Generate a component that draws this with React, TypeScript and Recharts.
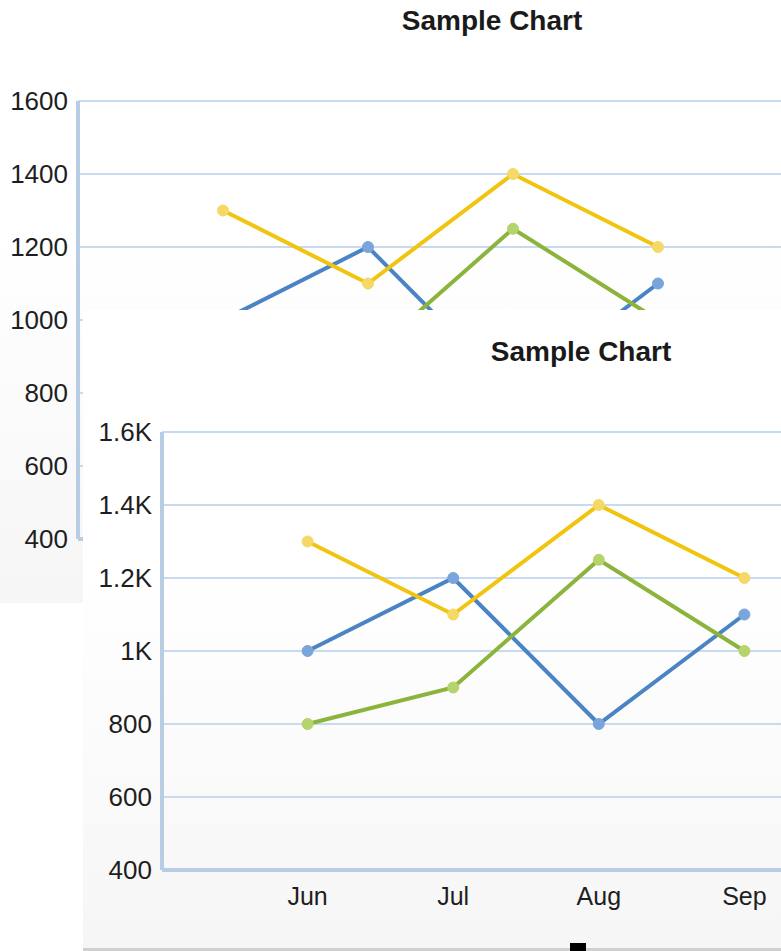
import React from 'react';
import { LineChart, Line, XAxis, YAxis, CartesianGrid } from 'recharts';

const months = ['Jun', 'Jul', 'Aug', 'Sep'];
const positions = [1, 2, 3, 4];
const blueValues = [1000, 1200, 800, 1100];
const greenValues = [800, 900, 1250, 1000];
const yellowValues = [1300, 1100, 1400, 1200];
const yTicks = [400, 600, 800, 1000, 1200, 1400, 1600];
const chartTitle = 'Sample Chart';

const data = months.map((m, i) => ({
  pos: positions[i],
  month: m,
  blue: blueValues[i],
  green: greenValues[i],
  yellow: yellowValues[i],
}));

const FONT = '"Liberation Sans", Arial, sans-serif';
const AXIS = '#b8cce4';
const GRID = '#c8daf0';

const series = [
  { key: 'blue', stroke: '#4a84c5', dot: '#7aa5da' },
  { key: 'green', stroke: '#8cb43c', dot: '#b6d46c' },
  { key: 'yellow', stroke: '#f1c40f', dot: '#f5d866' },
];

const plain = (v: number) => String(v);
const kilo = (v: number) => (v >= 1000 ? `${v / 1000}K` : String(v));

interface SampleChartProps {
  left: number;
  top: number;
  width: number;
  height: number;
  bottomMargin: number;
  titleX: number;
  yFormat: (v: number) => string;
  border?: boolean;
}

const SampleChart: React.FC<SampleChartProps> = ({ left, top, width, height, bottomMargin, titleX, yFormat, border }) => {
  return (
    <div
      style={{
        position: 'absolute',
        left,
        top,
        width,
        height,
        background: 'linear-gradient(to bottom, #ffffff 0%, #ffffff 40%, #f6f6f6 100%)',
        borderBottom: border ? '3px solid #d0d0d0' : undefined,
        fontFamily: FONT,
      }}
    >
      <div
        style={{
          position: 'absolute',
          left: titleX - 200,
          width: 400,
          top: 28,
          textAlign: 'center',
          fontSize: 28,
          lineHeight: '28px',
          fontWeight: 'bold',
          color: '#1a1a1a',
        }}
      >
        {chartTitle}
      </div>
      <LineChart
        width={width}
        height={height}
        data={data}
        margin={{ top: 122, right: 13, bottom: bottomMargin, left: 0 }}
        style={{ position: 'absolute', left: 0, top: 0 }}
      >
        <CartesianGrid vertical={false} stroke={GRID} strokeWidth={2} />
        <XAxis
          dataKey="pos"
          type="number"
          domain={[0, 5]}
          ticks={positions}
          tickFormatter={(v) => months[v - 1]}
          axisLine={{ stroke: AXIS, strokeWidth: 4 }}
          tickLine={false}
          tickSize={0}
          tickMargin={17}
          height={30}
          tick={{ fill: '#1e1e1e', fontSize: 25, fontFamily: FONT }}
        />
        <YAxis
          domain={[400, 1600]}
          ticks={yTicks}
          tickFormatter={yFormat}
          width={79}
          axisLine={{ stroke: AXIS, strokeWidth: 4 }}
          tickLine={false}
          tickSize={0}
          tickMargin={10}
          tick={{ fill: '#1e1e1e', fontSize: 26, fontFamily: FONT }}
        />
        {series.map((s) => (
          <Line
            key={s.key}
            dataKey={s.key}
            stroke={s.stroke}
            strokeWidth={4}
            dot={{ r: 5.5, fill: s.dot, stroke: s.dot, strokeWidth: 1 }}
            isAnimationActive={false}
          />
        ))}
      </LineChart>
    </div>
  );
};

export default function App() {
  return (
    <div
      style={{
        position: 'absolute',
        left: 0,
        top: 0,
        width: 781,
        height: 951,
        overflow: 'hidden',
        background: '#ffffff',
      }}
    >
      <SampleChart left={-1} top={-21} width={817} height={624} bottomMargin={34} titleX={493} yFormat={plain} />
      <SampleChart left={83} top={310} width={820} height={638} bottomMargin={48} titleX={498} yFormat={kilo} border />
      <div style={{ position: 'absolute', left: 570, top: 943, width: 16, height: 8, background: '#000' }} />
    </div>
  );
}
